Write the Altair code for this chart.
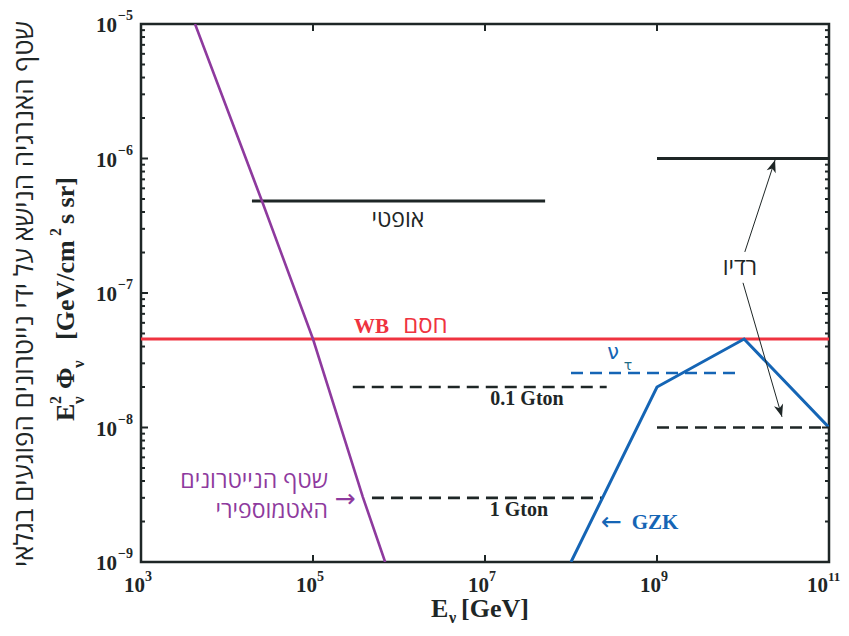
import math
import altair as alt
import pandas as pd

# ---------------- data ----------------
atm_E = [4.25e3, 2.55e4, 1.0e5, 3.8e5, 6.9e5]
atm_flux = [1e-5, 4.83e-7, 4.55e-8, 3.04e-9, 1e-9]

gzk_E = [1e8, 1e9, 1.03e10, 1e11]
gzk_flux = [1e-9, 2e-8, 4.55e-8, 1e-8]

wb_E = [1e3, 1e11]
wb_flux = [4.55e-8, 4.55e-8]

optical_E = [1.95e4, 5.0e7]
optical_flux = [4.83e-7, 4.83e-7]

radio_hi_E = [1e9, 1e11]
radio_hi_flux = [1e-6, 1e-6]

radio_lo_E = [1e9, 1e11]
radio_lo_flux = [1e-8, 1e-8]

gton01_E = [2.9e5, 2.6e8]
gton01_flux = [2.0e-8, 2.0e-8]

gton1_E = [4.85e5, 2.36e8]
gton1_flux = [3.0e-9, 3.0e-9]

nutau_E = [1e8, 8.5e9]
nutau_flux = [2.54e-8, 2.54e-8]

# radio annotation arrows (start near label -> tip)
arrow_E0 = [1.05e10, 1.0e10]
arrow_F0 = [2.02e-7, 1.19e-7]
arrow_E1 = [2.36e10, 2.84e10]
arrow_F1 = [9.75e-7, 1.2e-8]

x_tick_values = [1e3, 1e5, 1e7, 1e9, 1e11]
x_tick_exps = ["3", "5", "7", "9", "11"]
y_tick_values = [1e-5, 1e-6, 1e-7, 1e-8, 1e-9]
y_tick_exps = ["\u22125", "\u22126", "\u22127", "\u22128", "\u22129"]
y_decades = [-9, -8, -7, -6]
minor_mult = [2, 3, 4, 5, 6, 7, 8, 9]

# ---------------- layout / style ----------------
W, H = 688, 538
XMIN, XMAX, YMIN, YMAX = 1e3, 1e11, 1e-9, 1e-5
SERIF = "Liberation Serif"
HEB = "Open Sans, Liberation Sans, DejaVu Sans, sans-serif"
BLACK = "#1e2626"
RED = "#ef3340"
PURPLE = "#8e3a9e"
BLUE = "#1565b5"

xs = alt.Scale(type="log", domain=[XMIN, XMAX], nice=False)
ys = alt.Scale(type="log", domain=[YMIN, YMAX], nice=False)


def seg_df(name, E, F):
    return pd.DataFrame({"name": name, "E": E, "F": F})


def line_layer(df, color, width, dash=None):
    kw = dict(color=color, strokeWidth=width, clip=True)
    if dash:
        kw["strokeDash"] = dash
    return alt.Chart(df).mark_line(**kw).encode(
        x=alt.X("E:Q", scale=xs, axis=None),
        y=alt.Y("F:Q", scale=ys, axis=None),
        detail="name:N",
        order="E:Q",
    )


wb = line_layer(seg_df("wb", wb_E, wb_flux), RED, 3)
solid = line_layer(pd.concat([seg_df("opt", optical_E, optical_flux),
                              seg_df("rhi", radio_hi_E, radio_hi_flux)]), BLACK, 3.2)
dashed = line_layer(pd.concat([seg_df("g01", gton01_E, gton01_flux),
                               seg_df("g1", gton1_E, gton1_flux),
                               seg_df("rlo", radio_lo_E, radio_lo_flux)]), BLACK, 2.6, [12, 7])
nutau = line_layer(seg_df("nt", nutau_E, nutau_flux), BLUE, 2.6, [12, 7])
gzk = line_layer(seg_df("gzk", gzk_E, gzk_flux), BLUE, 3)
atm = line_layer(seg_df("atm", atm_E, atm_flux), PURPLE, 2.6)

# arrows
def px(e):
    return (math.log10(e) - 3) / 8 * W


def py(f):
    return (-5 - math.log10(f)) / 4 * H


angles = [math.degrees(math.atan2(px(e1) - px(e0), -(py(f1) - py(f0))))
          for e0, f0, e1, f1 in zip(arrow_E0, arrow_F0, arrow_E1, arrow_F1)]
arr_df = pd.DataFrame({"E0": arrow_E0, "F0": arrow_F0, "E1": arrow_E1,
                       "F1": arrow_F1, "ang": angles})
arrow_lines = alt.Chart(arr_df).mark_rule(color=BLACK, strokeWidth=1).encode(
    x=alt.X("E0:Q", scale=xs, axis=None), y=alt.Y("F0:Q", scale=ys, axis=None),
    x2="E1:Q", y2="F1:Q")
arrow_heads = alt.Chart(arr_df).mark_point(
    shape="M0,0 L-0.38,1 L0,0.72 L0.38,1 Z", filled=True, color=BLACK,
    opacity=1, size=620).encode(
    x=alt.X("E1:Q", scale=xs, axis=None), y=alt.Y("F1:Q", scale=ys, axis=None),
    angle=alt.Angle("ang:Q", scale=None))

# ---------------- annotations ----------------
def txt(E, F, s, color=BLACK, size=19, font=HEB, weight="normal", align="center",
        baseline="middle"):
    d = pd.DataFrame({"E": [E], "F": [F], "t": [s]})
    return alt.Chart(d).mark_text(color=color, fontSize=size, font=font,
                                  fontWeight=weight, align=align,
                                  baseline=baseline).encode(
        x=alt.X("E:Q", scale=xs, axis=None), y=alt.Y("F:Q", scale=ys, axis=None),
        text="t:N")


labels = [
    txt(9.7e5, 3.49e-7, "אופטי", size=23),
    txt(4.79e5, 5.05e-8, "WB", RED, 21, SERIF, "bold", baseline="alphabetic"),
    txt(2.03e6, 5.05e-8, "חסם", RED, 24, HEB, baseline="alphabetic"),
    txt(3.08e8, 3.58e-8, "ν", BLUE, 21, "DejaVu Sans"),
    txt(4.6e8, 2.86e-8, "τ", "#1d6b86", 14, "DejaVu Sans"),
    txt(3.08e7, 1.63e-8, "0.1 Gton", BLACK, 20, SERIF, "bold"),
    txt(2.48e7, 2.44e-9, "1 Gton", BLACK, 20, SERIF, "bold"),
    txt(2.95e8, 1.98e-9, "←", BLUE, 25, "DejaVu Sans"),
    txt(9.5e8, 1.95e-9, "GZK", BLUE, 21, SERIF, "bold"),
    txt(9.2e9, 1.53e-7, "רדיו", BLACK, 23),
    txt(1.49e5, 4.0e-9, "שטף הנייטרונים", PURPLE, 23, align="right"),
    txt(1.49e5, 2.4e-9, "האטמוספירי", PURPLE, 23, align="right"),
    txt(2.36e5, 2.96e-9, "→", PURPLE, 25, "DejaVu Sans"),
]

# ---------------- ticks (inside, on all sides) ----------------
tx = pd.DataFrame({"E": x_tick_values})
x_ticks_b = alt.Chart(tx).mark_rule(color=BLACK, strokeWidth=2).encode(
    x=alt.X("E:Q", scale=xs, axis=None), y=alt.value(H), y2=alt.value(H - 7))
x_ticks_t = alt.Chart(tx).mark_rule(color=BLACK, strokeWidth=2).encode(
    x=alt.X("E:Q", scale=xs, axis=None), y=alt.value(0), y2=alt.value(7))

ty = pd.DataFrame({"F": y_tick_values})
minor_vals = [m * 10.0 ** d for d in y_decades for m in minor_mult]
tym = pd.DataFrame({"F": minor_vals})
y_ticks = []
for df, L in ((ty, 7), (tym, 4)):
    y_ticks.append(alt.Chart(df).mark_rule(color=BLACK, strokeWidth=2).encode(
        y=alt.Y("F:Q", scale=ys, axis=None), x=alt.value(0), x2=alt.value(L)))
    y_ticks.append(alt.Chart(df).mark_rule(color=BLACK, strokeWidth=2).encode(
        y=alt.Y("F:Q", scale=ys, axis=None), x=alt.value(W), x2=alt.value(W - L)))

# tick labels (the last one is nudged left so that it fits the page)
xl = pd.DataFrame({"E": x_tick_values, "e": x_tick_exps, "b": ["10"] * 5})
x_labels = []
for sub, off in ((xl.iloc[:-1], 4), (xl.iloc[-1:], -1)):
    x_labels.append(alt.Chart(sub).mark_text(
        font=SERIF, fontWeight="bold", fontSize=21, color=BLACK, align="right",
        baseline="alphabetic", dx=off).encode(
        x=alt.X("E:Q", scale=xs, axis=None), y=alt.value(H + 30), text="b:N"))
    x_labels.append(alt.Chart(sub).mark_text(
        font=SERIF, fontWeight="bold", fontSize=14 if off > 0 else 13, color=BLACK,
        align="left", baseline="alphabetic", dx=off).encode(
        x=alt.X("E:Q", scale=xs, axis=None), y=alt.value(H + 19), text="e:N"))

yl = pd.DataFrame({"F": y_tick_values, "e": y_tick_exps, "b": ["10"] * 5})
y_lab_base = alt.Chart(yl).mark_text(font=SERIF, fontWeight="bold", fontSize=21,
                                     color=BLACK, align="right", baseline="alphabetic",
                                     dy=8).encode(
    y=alt.Y("F:Q", scale=ys, axis=None), x=alt.value(-24), text="b:N")
y_lab_exp = alt.Chart(yl).mark_text(font=SERIF, fontWeight="bold", fontSize=14,
                                    color=BLACK, align="left", baseline="alphabetic",
                                    dy=-4).encode(
    y=alt.Y("F:Q", scale=ys, axis=None), x=alt.value(-23), text="e:N")


# axis titles (pixel placed pieces)
def ptxt(x, y, s, size, font=SERIF, weight="bold", angle=0, align="left",
         baseline="alphabetic"):
    d = pd.DataFrame({"t": [s]})
    return alt.Chart(d).mark_text(font=font, fontWeight=weight, fontSize=size,
                                  color=BLACK, angle=angle, align=align,
                                  baseline=baseline).encode(
        x=alt.value(x), y=alt.value(y), text="t:N")


ox, oy = 141, 24  # page position of plot origin
xtitle = [
    ptxt(431 - ox, 617 - oy, "E", 26),
    ptxt(449 - ox, 623 - oy, "ν", 16),
    ptxt(461 - ox, 617 - oy, "[GeV]", 26),
]
ytitle = [
    ptxt(25 - ox, 294 - oy, "שטף האנרגיה הנישא על ידי נייטרונים הפוגעים בגלאי", 26,
         font=HEB, weight="normal", angle=270, align="center", baseline="middle"),
    ptxt(74 - ox, 421 - oy, "E", 26, angle=270),
    ptxt(61 - ox, 404 - oy, "2", 16, angle=270),
    ptxt(84 - ox, 404 - oy, "ν", 17, angle=270),
    ptxt(74 - ox, 389 - oy, "Φ", 26, angle=270),
    ptxt(84 - ox, 368 - oy, "ν", 17, angle=270),
    ptxt(74 - ox, 340 - oy, "[GeV/cm", 26, angle=270),
    ptxt(61 - ox, 236 - oy, "2", 16, angle=270),
    ptxt(74 - ox, 224 - oy, " s sr]", 26, angle=270),
]

chart = alt.layer(
    wb, solid, dashed, nutau, gzk, atm, arrow_lines, arrow_heads,
    *labels, x_ticks_b, x_ticks_t, *y_ticks, *x_labels,
    y_lab_base, y_lab_exp, *xtitle, *ytitle,
).properties(
    width=W, height=H, autosize="none",
    padding={"left": 133, "top": 16, "right": 12, "bottom": 66},
    background="white",
).configure_view(stroke=BLACK, strokeWidth=2.5)

chart.save("out.html", embed_options={"renderer": "svg", "actions": False})
